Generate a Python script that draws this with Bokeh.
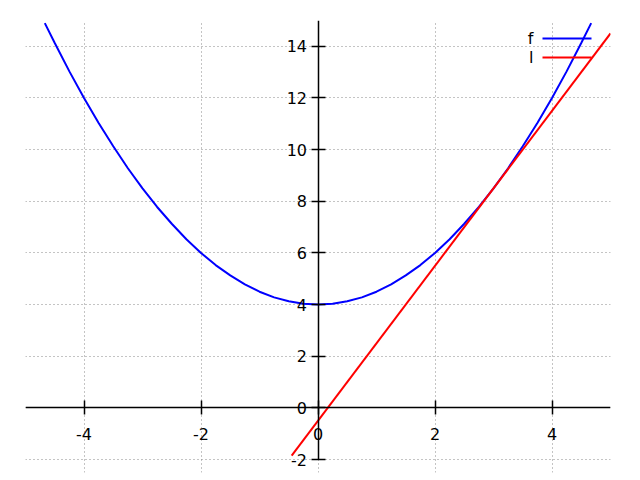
from bokeh.plotting import figure
from bokeh.models import Range1d, FixedTicker, Label, Arrow
from bokeh.embed import file_html
from bokeh.resources import INLINE

# Curve f
f_x = [-4.67, -4.5, -4.25, -4.0, -3.75, -3.5, -3.25, -3.0, -2.75, -2.5, -2.25, -2.0,
       -1.75, -1.5, -1.25, -1.0, -0.75, -0.5, -0.25, 0.0, 0.25, 0.5, 0.75, 1.0,
       1.25, 1.5, 1.75, 2.0, 2.25, 2.5, 2.75, 3.0, 3.25, 3.5, 3.75, 4.0, 4.25, 4.5, 4.67]
f_y = [14.90, 14.13, 13.03, 12.0, 11.03, 10.13, 9.28, 8.5, 7.78, 7.13, 6.53, 6.0,
       5.53, 5.13, 4.78, 4.5, 4.28, 4.13, 4.03, 4.0, 4.03, 4.13, 4.28, 4.5,
       4.78, 5.13, 5.53, 6.0, 6.53, 7.13, 7.78, 8.5, 9.28, 10.13, 11.03, 12.0, 13.03, 14.13, 14.90]

# Tangent line l
l_x = [-0.45, 5.0]
l_y = [-1.85, 14.5]

x_ticks = [-4, -2, 0, 2, 4]
y_ticks = [-2, 0, 2, 4, 6, 8, 10, 12, 14]

p = figure(width=635, height=475, output_backend="svg", toolbar_location=None,
           x_range=Range1d(-5, 5), y_range=Range1d(-2.5, 15),
           min_border_left=25, min_border_right=25, min_border_top=20, min_border_bottom=3)
p.outline_line_color = None

p.line(f_x, f_y, line_color="blue", line_width=2)
p.line(l_x, l_y, line_color="red", line_width=2)

for ax in (p.xaxis[0], p.yaxis[0]):
    ax.fixed_location = 0
    ax.axis_line_color = "black"
    ax.axis_line_width = 1.5
    ax.major_tick_in = 7
    ax.major_tick_out = 7
    ax.major_tick_line_width = 1.5
    ax.minor_tick_line_color = None
    ax.major_label_text_font = "DejaVu Sans"
    ax.major_label_text_font_size = "16px"
    ax.major_label_text_color = "black"
p.xaxis[0].ticker = FixedTicker(ticks=x_ticks)
p.yaxis[0].ticker = FixedTicker(ticks=y_ticks)
p.yaxis[0].bounds = (-2, 15)
p.xaxis[0].major_label_overrides = {t: str(t) for t in x_ticks}
p.yaxis[0].major_label_overrides = {t: str(t) for t in y_ticks}
p.xaxis[0].major_label_standoff = 13
p.yaxis[0].major_label_standoff = 4

p.xgrid.ticker = FixedTicker(ticks=x_ticks)
p.ygrid.ticker = FixedTicker(ticks=y_ticks)
p.grid.grid_line_color = "#888888"
p.grid.grid_line_dash = "1 3"
p.grid.grid_line_width = 1

# Legend: label first, then line sample (screen units relative to the frame)
for name, color, yy in (("f", "blue", 434), ("l", "red", 415)):
    p.add_layout(Label(x=508, y=yy, x_units="screen", y_units="screen", text=name,
                       text_align="right", text_baseline="middle",
                       text_font="DejaVu Sans", text_font_size="16px", text_color="black"))
    p.add_layout(Arrow(end=None, x_start=517, y_start=yy, x_end=566, y_end=yy,
                       start_units="screen", end_units="screen",
                       line_color=color, line_width=2))

open("out.html", "w").write(file_html(p, INLINE))
